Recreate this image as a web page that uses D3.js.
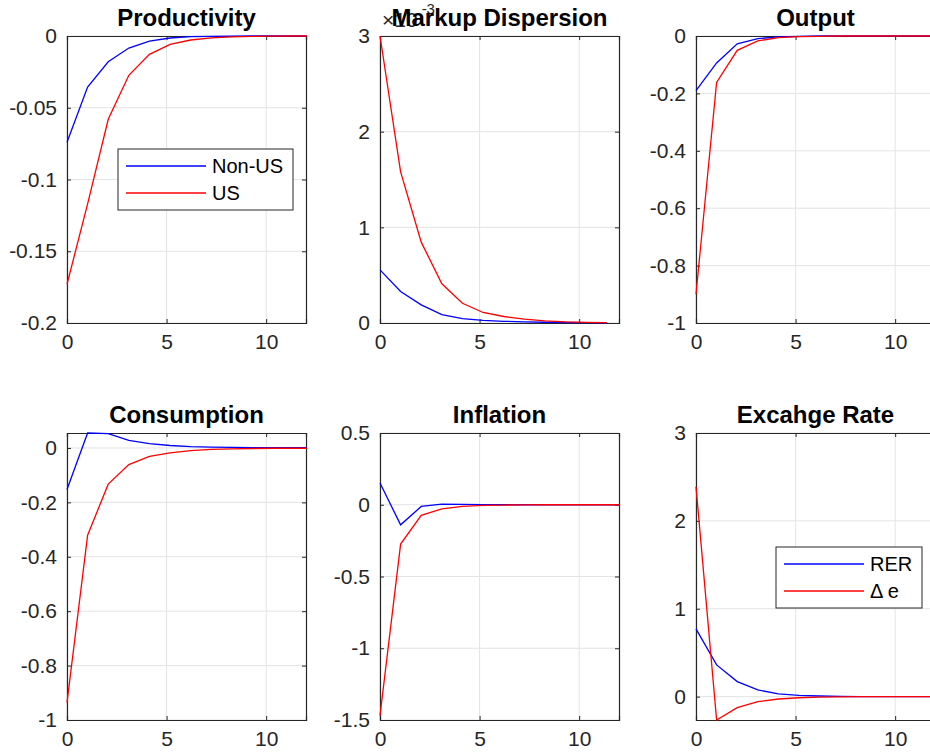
<!DOCTYPE html>
<html>
<head>
<meta charset="utf-8">
<script src="https://cdn.jsdelivr.net/npm/d3@7"></script>
<style>
  body { margin: 0; background: #fff; }
  svg { display: block; font-family: "Liberation Sans", Arial, Helvetica, sans-serif; }
</style>
</head>
<body>
<svg id="chart" width="930" height="752"></svg>
<script>
//============================================================
// Data (read off the impulse responses)
//------------------------------------------------------------

var periods = [0, 1.035, 2.07, 3.105, 4.14, 5.175, 6.21, 7.245, 8.28, 9.315, 10.35, 11.385, 12.42];

var prodNonUS = [-0.074, -0.0356, -0.018, -0.0084, -0.0035, -0.0014, -0.0005, -0.0002, -0.0001, 0, 0, 0, 0];
var prodUS    = [-0.173, -0.117, -0.058, -0.0274, -0.0128, -0.0058, -0.0028, -0.0013, -0.0006, -0.0003, -0.0001, 0, 0];

// markup dispersion, in units of 1e-3
var markupNonUS = [0.555, 0.33, 0.19, 0.087, 0.045, 0.027, 0.018, 0.012, 0.008, 0.005, 0.003, 0.002];
var markupUS    = [3.0, 1.58, 0.845, 0.41, 0.206, 0.11, 0.068, 0.04, 0.022, 0.012, 0.007, 0.004];

var outputNonUS = [-0.19, -0.094, -0.027, -0.009, -0.003, -0.001, 0, 0, 0, 0, 0, 0, 0];
var outputUS    = [-0.9, -0.162, -0.05, -0.017, -0.006, -0.002, -0.001, 0, 0, 0, 0, 0, 0];

var consNonUS = [-0.153, 0.055, 0.053, 0.028, 0.016, 0.009, 0.005, 0.003, 0.002, 0.001, 0.001, 0.001, 0.001];
var consUS    = [-0.936, -0.321, -0.133, -0.061, -0.031, -0.018, -0.01, -0.005, -0.003, -0.002, -0.001, -0.001, -0.001];

var inflNonUS = [0.151, -0.14, -0.012, 0.005, 0.002, 0.001, 0, 0, 0, 0, 0, 0, 0];
var inflUS    = [-1.47, -0.274, -0.074, -0.028, -0.012, -0.005, -0.002, -0.001, 0, 0, 0, 0, 0];

var rer    = [0.771, 0.361, 0.171, 0.076, 0.032, 0.015, 0.007, 0.003, 0.001, 0, 0, 0, 0];
var deltaE = [2.39, -0.266, -0.125, -0.057, -0.027, -0.013, -0.006, -0.003, -0.001, 0, 0, 0, 0];

var titles = ["Productivity", "Markup Dispersion", "Output", "Consumption", "Inflation", "Excahge Rate"];
var xTicks = [0, 5, 10];
var yDomains = [[-0.2, 0], [0, 3], [-1, 0], [-1, 0.055], [-1.5, 0.5], [-0.266, 3]];
var yTicks = [
    [-0.2, -0.15, -0.1, -0.05, 0],
    [0, 1, 2, 3],
    [-1, -0.8, -0.6, -0.4, -0.2, 0],
    [-1, -0.8, -0.6, -0.4, -0.2, 0],
    [-1.5, -1, -0.5, 0, 0.5],
    [0, 1, 2, 3]
];
var seriesA = [prodNonUS, markupNonUS, outputNonUS, consNonUS, inflNonUS, rer];
var seriesB = [prodUS, markupUS, outputUS, consUS, inflUS, deltaE];
var legendNames = {0: ["Non-US", "US"], 5: ["RER", "\u0394 e"]};

//============================================================
// Layout
//------------------------------------------------------------

var colLeft = [67, 380, 696]
  , rowTop = [36, 433]
  , plotW = 239
  , plotH = 287
  , axisColor = "#262626"
  , gridColor = "#e3e3e3"
  , blue = "#0000ff"
  , red = "#ff0000"
  ;

// legend boxes relative to the plot area: [x, y, w, h]
var legendBox = {0: [51, 113, 175, 61], 5: [80, 114, 146, 61]};

var svg = d3.select("#chart");
var defs = svg.append("defs");

titles.forEach(function (title, i) {
    var left = colLeft[i % 3],
        top = rowTop[Math.floor(i / 3)];

    var x = d3.scaleLinear().domain([0, 12]).range([0, plotW]);
    var y = d3.scaleLinear().domain(yDomains[i]).range([plotH, 0]);

    var g = svg.append("g").attr("transform", "translate(" + left + "," + top + ")");

    defs.append("clipPath").attr("id", "clip" + i)
      .append("rect").attr("x", -1).attr("y", -1).attr("width", plotW + 2).attr("height", plotH + 2);

    // grid
    g.append("g").selectAll("line.gx").data(xTicks).enter().append("line")
      .attr("x1", function (d) { return x(d); }).attr("x2", function (d) { return x(d); })
      .attr("y1", 0).attr("y2", plotH)
      .attr("stroke", gridColor).attr("stroke-width", 1);
    g.append("g").selectAll("line.gy").data(yTicks[i]).enter().append("line")
      .attr("x1", 0).attr("x2", plotW)
      .attr("y1", function (d) { return y(d); }).attr("y2", function (d) { return y(d); })
      .attr("stroke", gridColor).attr("stroke-width", 1);

    // axes (ticks inward, box on)
    var fmt = function (d) { return String(+d.toFixed(4)); };
    var axL = g.append("g").call(d3.axisLeft(y).tickValues(yTicks[i]).tickSize(-4).tickPadding(10).tickFormat(fmt));
    var axR = g.append("g").attr("transform", "translate(" + plotW + ",0)")
      .call(d3.axisRight(y).tickValues(yTicks[i]).tickSize(-4).tickFormat(""));
    var axB = g.append("g").attr("transform", "translate(0," + plotH + ")")
      .call(d3.axisBottom(x).tickValues(xTicks).tickSize(-4).tickPadding(11).tickFormat(fmt));
    var axT = g.append("g")
      .call(d3.axisTop(x).tickValues(xTicks).tickSize(-4).tickFormat(""));

    [axL, axR, axB, axT].forEach(function (ax) {
        ax.select(".domain").attr("stroke", axisColor).attr("stroke-width", 1.2);
        ax.selectAll(".tick line").attr("stroke", axisColor);
        ax.selectAll(".tick text").attr("fill", axisColor).style("font-size", "21px")
          .style("font-family", "'Liberation Sans', Arial, sans-serif");
    });

    // lines
    var line = d3.line()
      .x(function (d, j) { return x(periods[j]); })
      .y(function (d) { return y(d); });

    var lines = g.append("g").attr("clip-path", "url(#clip" + i + ")");
    lines.append("path").datum(seriesA[i])
      .attr("d", line).attr("fill", "none").attr("stroke", blue).attr("stroke-width", 1.3);
    lines.append("path").datum(seriesB[i])
      .attr("d", line).attr("fill", "none").attr("stroke", red).attr("stroke-width", 1.3);

    // exponent label (sits under the title, as in the original figure)
    if (i === 1) {
        var ex = svg.append("text").attr("x", left + 2).attr("y", top - 9)
          .style("font-size", "21px").attr("fill", axisColor);
        ex.append("tspan").text("\u00d710");
        ex.append("tspan").attr("dx", 4).attr("dy", -13).style("font-size", "15px").text("-3");
    }

    // title
    svg.append("text")
      .attr("x", left + plotW / 2).attr("y", top - 10)
      .attr("text-anchor", "middle")
      .style("font-size", "24px").style("font-weight", "bold").attr("fill", "#000")
      .text(title);

    // legend
    if (legendNames[i]) {
        var b = legendBox[i];
        var lg = g.append("g").attr("transform", "translate(" + b[0] + "," + b[1] + ")");
        lg.append("rect").attr("width", b[2]).attr("height", b[3])
          .attr("fill", "#fff").attr("stroke", axisColor).attr("stroke-width", 1);
        [blue, red].forEach(function (c, k) {
            var yy = 17 + k * 27;
            lg.append("line").attr("x1", 8).attr("x2", 88).attr("y1", yy).attr("y2", yy)
              .attr("stroke", c).attr("stroke-width", 1.3);
            lg.append("text").attr("x", 94).attr("y", yy + 7)
              .style("font-size", "20px").attr("fill", "#000")
              .text(legendNames[i][k]);
        });
    }
});
</script>
</body>
</html>
